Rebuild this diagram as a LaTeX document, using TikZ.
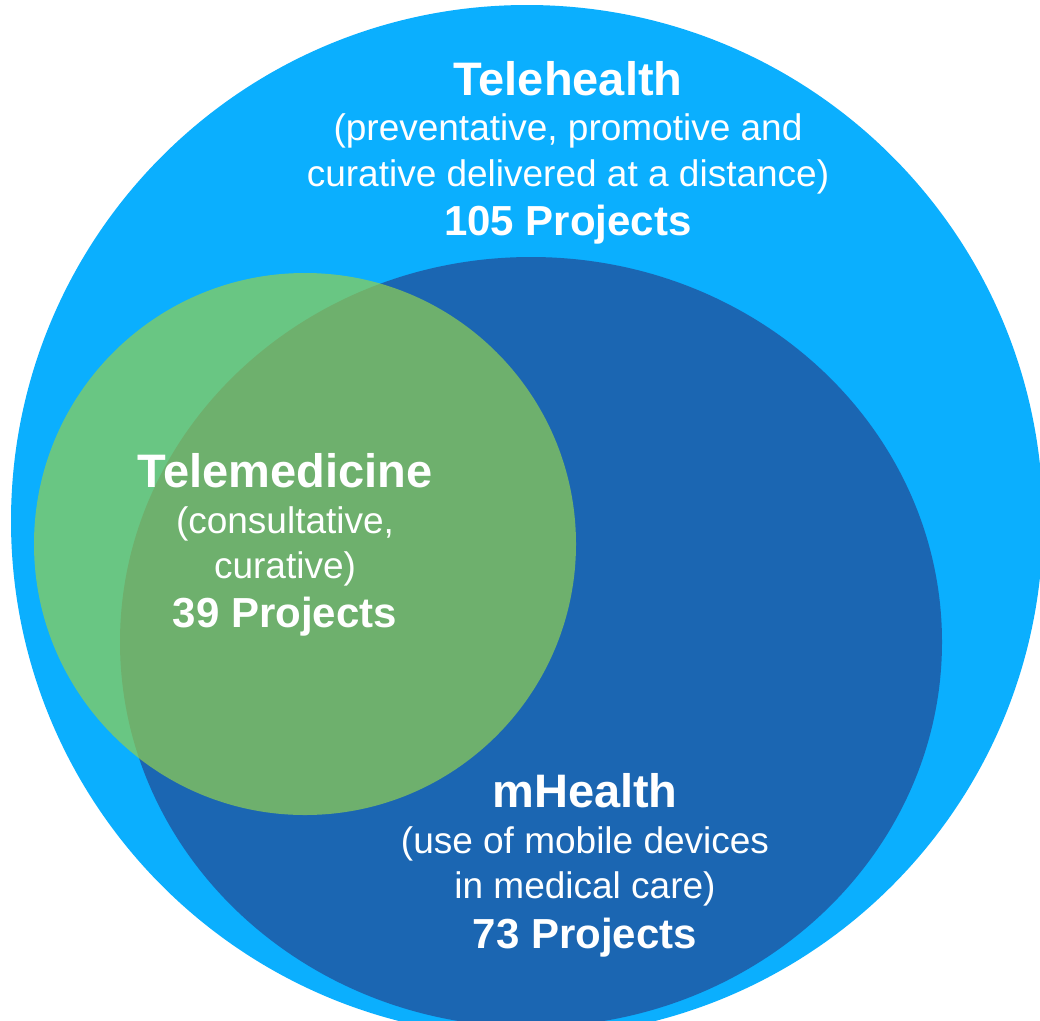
\documentclass[tikz,border=0pt]{standalone}
\usepackage{fontspec}
\setmainfont{Liberation Sans}
\definecolor{telehealthblue}{HTML}{0BAFFE}
\definecolor{mhealthblue}{HTML}{1B66B2}
\definecolor{telemedgreen}{HTML}{92D050}
\tikzset{
  title/.style={text=white, inner sep=0pt, anchor=base, font=\fontsize{47}{47}\selectfont\bfseries},
  note/.style={text=white, inner sep=0pt, anchor=base, font=\fontsize{37}{37}\selectfont},
  count/.style={text=white, inner sep=0pt, anchor=base, font=\fontsize{42}{42}\selectfont\bfseries}
}
\begin{document}
\begin{tikzpicture}[x=1pt, y=-1pt]
  \useasboundingbox (0,0) rectangle (1040,1020);
  \clip (0,0) rectangle (1040,1020);
  % outer set: telehealth
  \fill[telehealthblue] (527,521) circle [radius=516pt];
  % mHealth, inside telehealth
  \fill[mhealthblue] (531,642) ellipse [x radius=411pt, y radius=385pt];
  % telemedicine, translucent so the overlap shows
  \fill[telemedgreen, fill opacity=0.7] (305,544) circle [radius=271pt];

  % telehealth labels
  \node[title] (th1) at (568,95) {Telehealth};
  \node[note]  (th2) at (568,140.5) {(preventative, promotive and};
  \node[note]  (th3) at (568,186.5) {curative delivered at a distance)};
  \node[count] (th4) at (568,235) {105 Projects};

  % telemedicine labels
  \node[title] (tm1) at (285,487) {Telemedicine};
  \node[note]  (tm2) at (285,533) {(consultative,};
  \node[note]  (tm3) at (285,578) {curative)};
  \node[count] (tm4) at (285,627) {39 Projects};

  % mHealth labels
  \node[title] (mh1) at (585,807) {mHealth};
  \node[note]  (mh2) at (585,853) {(use of mobile devices};
  \node[note]  (mh3) at (585,898) {in medical care)};
  \node[count] (mh4) at (585,948) {73 Projects};
\end{tikzpicture}
\end{document}
